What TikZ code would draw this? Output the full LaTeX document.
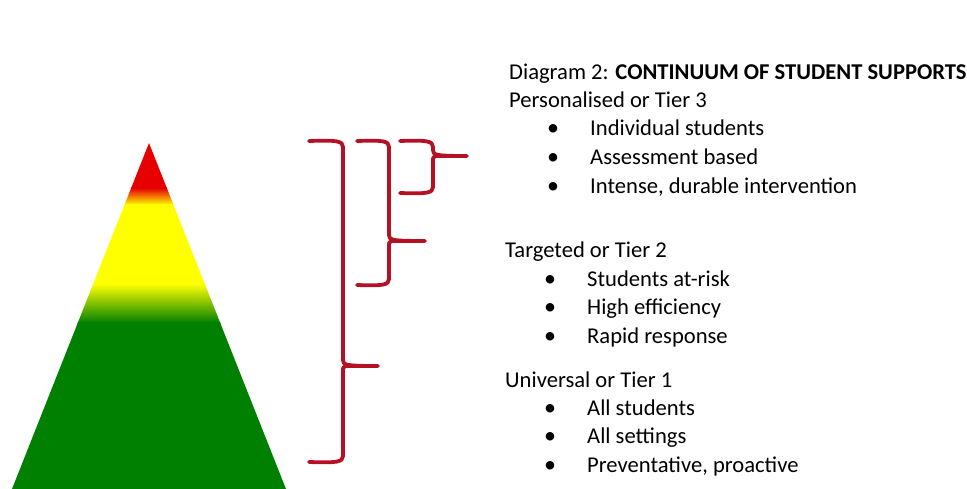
\documentclass[tikz,border=0pt]{standalone}
\usepackage{fontspec}
\setmainfont{Carlito}
\definecolor{tierred}{RGB}{230,0,0}
\definecolor{tieryellow}{RGB}{255,255,0}
\definecolor{tiergreen}{RGB}{0,128,0}
\definecolor{bracered}{RGB}{180,18,36}
\tikzset{
  tierbrace/.style={color=bracered,line width=3.8pt,line join=round,line cap=round},
  heading/.style={anchor=base west,inner sep=0pt,font=\fontsize{22.6}{27}\selectfont},
  item/.style={heading},
  dot/.style={anchor=base,inner sep=0pt,font=\fontsize{24}{27}\selectfont}
}
% left end x, spine x, top y, tip y, bottom y, tip end x
\newcommand{\bracepath}[6]{%
  \draw[tierbrace] (#1,#3) .. controls (#2-6,#3-1) and (#2,#3) .. (#2,#3+6)
    -- (#2,#4-6) .. controls (#2,#4-1) and (#2+2,#4) .. (#6,#4)
    -- (#2+3,#4) .. controls (#2,#4+1) .. (#2,#4+6)
    -- (#2,#5-6) .. controls (#2,#5) and (#2-6,#5+1) .. (#1,#5);}
\begin{document}
\begin{tikzpicture}[x=1pt,y=-1pt]
      \useasboundingbox (0,0) rectangle (967,489);
      % pyramid
      \coordinate (apex) at (149,143);
      \coordinate (baseL) at (12,489);
      \coordinate (baseR) at (286,489);
      \begin{scope}
        \clip (apex) -- (baseR) -- (baseL) -- cycle;
        \fill[tierred] (0,140) rectangle (300,189);
        \shade[top color=tierred,bottom color=tieryellow] (0,188) rectangle (300,205);
        \fill[tieryellow] (0,204) rectangle (300,285);
        \shade[top color=tieryellow,bottom color=tiergreen] (0,284) rectangle (300,323);
        \fill[tiergreen] (0,322) rectangle (300,490);
      \end{scope}
      % braces
      \bracepath{309}{343}{141}{366}{462}{378}
      \bracepath{357}{389}{141}{241}{285}{425}
      \bracepath{400}{433}{141}{156}{193}{467}
      % text
      \node[heading] (title) at (509,80) {Diagram 2: \textbf{CONTINUUM OF STUDENT SUPPORTS}};
      \node[heading] (tier3) at (509,108) {Personalised or Tier 3};
      \node[dot] (d31) at (553,136) {•};
      \node[item] (i31) at (590,136) {Individual students};
      \node[dot] (d32) at (553,165) {•};
      \node[item] (i32) at (590,165) {Assessment based};
      \node[dot] (d33) at (553,194) {•};
      \node[item] (i33) at (590,194) {Intense, durable intervention};
      \node[heading] (tier2) at (505,258) {Targeted or Tier 2};
      \node[dot] (d21) at (550,287) {•};
      \node[item] (i21) at (587,287) {Students at-risk};
      \node[dot] (d22) at (550,315) {•};
      \node[item] (i22) at (587,315) {High efficiency};
      \node[dot] (d23) at (550,343) {•};
      \node[item] (i23) at (587,343) {Rapid response};
      \node[heading] (tier1) at (505,387) {Universal or Tier 1};
      \node[dot] (d11) at (550,415) {•};
      \node[item] (i11) at (587,415) {All students};
      \node[dot] (d12) at (550,443) {•};
      \node[item] (i12) at (587,443) {All settings};
      \node[dot] (d13) at (550,472) {•};
      \node[item] (i13) at (587,472) {Preventative, proactive};
    \end{tikzpicture}
\end{document}
